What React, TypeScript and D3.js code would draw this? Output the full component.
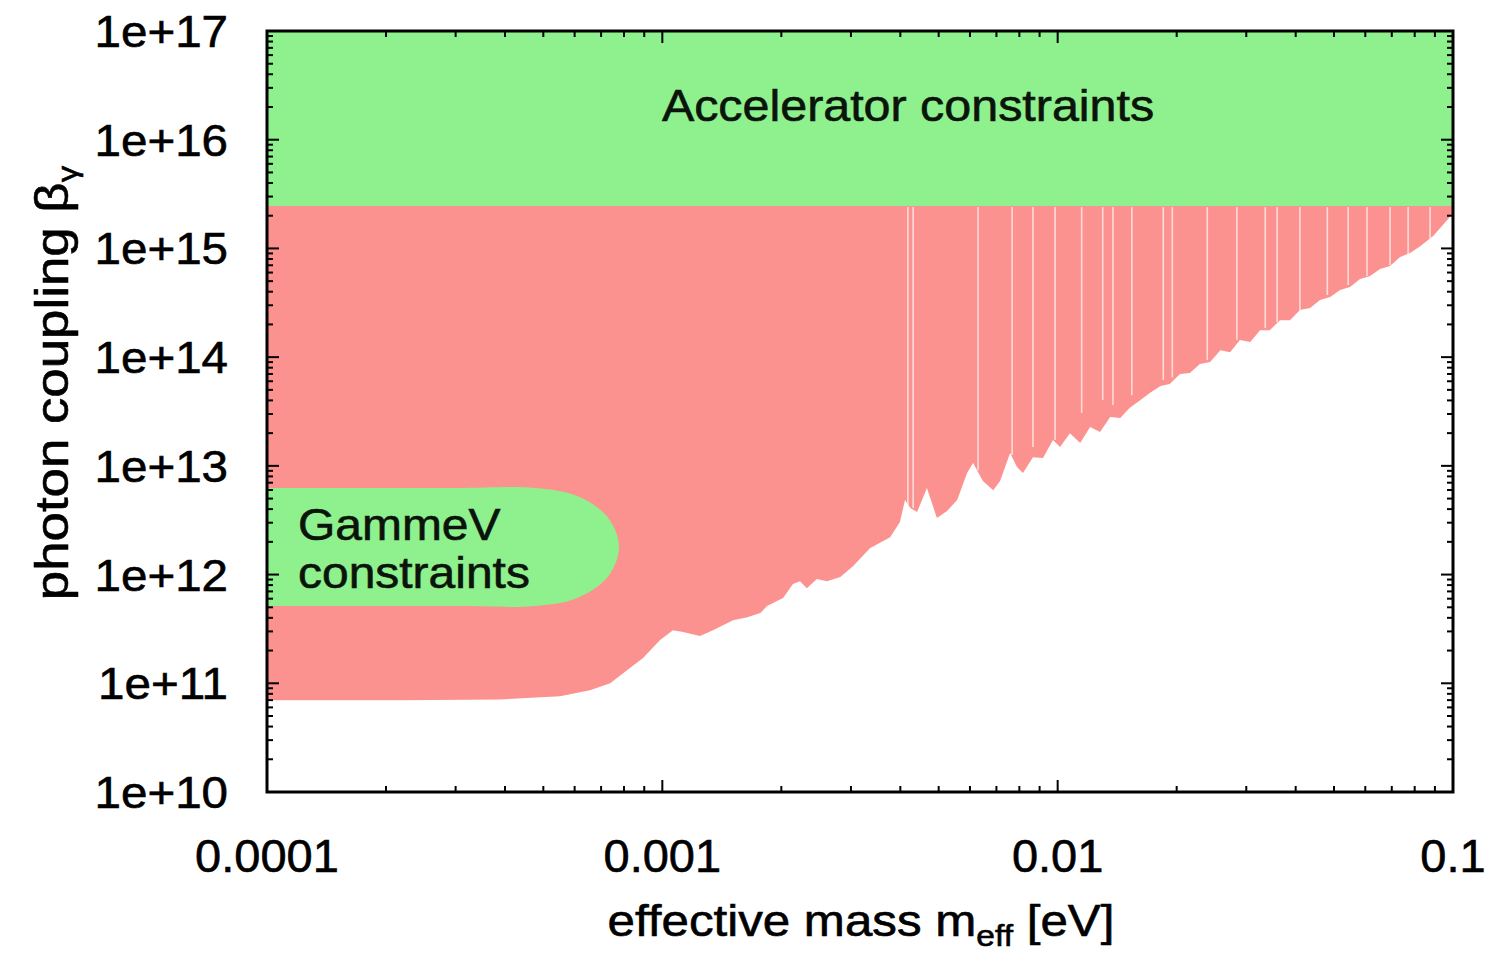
import React from "react";
import * as d3 from "d3";

// Axis ticks
const xTickValues = [1e-4, 1e-3, 1e-2, 1e-1];
const xTickLabels = ["0.0001", "0.001", "0.01", "0.1"];
const yTickValues = [1e10, 1e11, 1e12, 1e13, 1e14, 1e15, 1e16, 1e17];
const yTickLabels = ["1e+10", "1e+11", "1e+12", "1e+13", "1e+14", "1e+15", "1e+16", "1e+17"];

// Accelerator bound on the photon coupling
const acceleratorBound = 2.45e15;

// Lower edge of the excluded (red) region: effective mass [eV] / coupling
const boundaryMass = [
  1.0e-4, 2.17e-4, 3.88e-4, 5.51e-4, 6.56e-4, 7.38e-4, 8.28e-4, 8.94e-4, 9.87e-4, 1.064e-3,
  1.128e-3, 1.245e-3, 1.343e-3, 1.51e-3, 1.64e-3, 1.77e-3, 1.84e-3, 1.95e-3, 2.02e-3, 2.14e-3,
  2.23e-3, 2.32e-3, 2.46e-3, 2.61e-3, 2.82e-3, 3.04e-3, 3.35e-3, 3.77e-3, 3.99e-3, 4.11e-3,
  4.24e-3, 4.41e-3, 4.67e-3, 4.95e-3, 5.25e-3, 5.57e-3, 5.9e-3, 6.11e-3, 6.47e-3, 6.87e-3,
  7.15e-3, 7.58e-3, 7.89e-3, 8.17e-3, 8.66e-3, 9.18e-3, 9.73e-3, 1.014e-2, 1.074e-2, 1.14e-2,
  1.208e-2, 1.28e-2, 1.358e-2, 1.44e-2, 1.52e-2, 1.62e-2, 1.71e-2, 1.82e-2, 1.92e-2, 2.04e-2,
  2.16e-2, 2.29e-2, 2.43e-2, 2.58e-2, 2.73e-2, 2.89e-2, 3.07e-2, 3.25e-2, 3.44e-2, 3.65e-2,
  3.87e-2, 4.1e-2, 4.35e-2, 4.61e-2, 4.89e-2, 5.18e-2, 5.49e-2, 5.82e-2, 6.17e-2, 6.54e-2,
  6.93e-2, 7.35e-2, 7.79e-2, 8.26e-2, 8.91e-2, 9.66e-2, 1.0e-1,
];
const boundaryCoupling = [
  7.0e10, 7.0e10, 7.1e10, 7.6e10, 8.65e10, 1.0e11, 1.38e11, 1.71e11, 2.5e11, 3.08e11,
  2.96e11, 2.72e11, 3.08e11, 3.81e11, 4.06e11, 4.43e11, 5.13e11, 5.7e11, 6.08e11, 8.18e11,
  8.7e11, 7.5e11, 9.1e11, 8.7e11, 9.5e11, 1.2e12, 1.75e12, 2.21e12, 3.04e12, 4.84e12,
  4.09e12, 3.76e12, 6.25e12, 3.31e12, 3.84e12, 4.84e12, 8.6e12, 1.06e13, 7.24e12, 5.98e12,
  7.24e12, 1.31e13, 9.75e12, 8.6e12, 1.2e13, 1.18e13, 1.73e13, 1.49e13, 2.0e13, 1.62e13,
  2.28e13, 2.05e13, 2.81e13, 2.75e13, 3.4e13, 4.03e13, 4.68e13, 5.42e13, 5.66e13, 6.99e13,
  7.14e13, 8.65e13, 9.0e13, 1.16e14, 1.11e14, 1.44e14, 1.38e14, 1.77e14, 1.77e14, 2.19e14,
  2.19e14, 2.71e14, 2.83e14, 3.35e14, 3.57e14, 4.14e14, 4.42e14, 5.23e14, 5.57e14, 6.46e14,
  6.9e14, 8.34e14, 9.07e14, 1.05e15, 1.3e15, 1.82e15, 2.12e15,
];

// Narrow resonance gaps inside the excluded region: mass / lowest coupling reached
const gapMass = [
  4.18e-3, 4.31e-3, 6.29e-3, 7.67e-3, 8.66e-3, 9.85e-3, 1.15e-2, 1.3e-2, 1.38e-2, 1.54e-2,
  1.85e-2, 1.95e-2, 2.39e-2, 2.84e-2, 3.35e-2, 3.59e-2, 4.1e-2, 4.81e-2, 5.43e-2, 6.06e-2,
  6.93e-2, 7.7e-2, 8.75e-2,
];
const gapCoupling = [
  4.36e12, 4.1e12, 9.1e12, 1.26e13, 1.49e13, 1.73e13, 3.06e13, 4.03e13, 3.62e13, 4.48e13,
  6.15e13, 6.5e13, 9.4e13, 1.44e14, 1.85e14, 2.1e14, 2.71e14, 3.73e14, 4.6e14, 5.57e14,
  7.03e14, 8.7e14, 1.2e15,
];

// GammeV excluded region outline
const gammevMass = [1e-4, 3e-4, 4.76e-4, 6.09e-4, 7.29e-4, 7.77e-4, 7.29e-4, 6.09e-4, 4.76e-4, 3e-4, 1e-4];
const gammevCoupling = [6.25e12, 6.25e12, 6.25e12, 5.27e12, 3.34e12, 1.79e12, 9.6e11, 6.08e11, 5.13e11, 5.13e11, 5.13e11];

const WIDTH = 1493;
const HEIGHT = 956;
const M = { left: 267, right: 1453, top: 31, bottom: 792 };

const GREEN = "#8ff08e";
const RED = "#fb9290";
const INK = "#0a140a";
const FONT = "'Liberation Sans', Arial, Helvetica, sans-serif";

export default function App() {
  const x = d3.scaleLog().domain([1e-4, 1e-1]).range([M.left, M.right]);
  const y = d3.scaleLog().domain([1e10, 1e17]).range([M.bottom, M.top]);

  const boundary = boundaryMass.map((m, i) => ({ m, b: boundaryCoupling[i] }));
  const redArea = d3
    .area<{ m: number; b: number }>()
    .x((d) => x(d.m))
    .y0((d) => y(d.b))
    .y1(() => y(acceleratorBound))(boundary);

  const gammev = gammevMass.map((m, i) => [x(m), y(gammevCoupling[i])] as [number, number]);
  const gammevPath = d3.line().curve(d3.curveCatmullRom.alpha(0.5))(gammev) + "Z";

  // minor ticks
  const xMinor: number[] = [];
  for (let e = -4; e < -1; e++) for (let k = 2; k <= 9; k++) xMinor.push(k * Math.pow(10, e));
  const yMinor: number[] = [];
  for (let e = 10; e < 17; e++) for (let k = 2; k <= 9; k++) yMinor.push(k * Math.pow(10, e));

  const MAJ = 12;
  const MIN = 6;
  const textStroke = { stroke: "currentColor", strokeWidth: 0.6 };

  return (
    <svg
      width={WIDTH}
      height={HEIGHT}
      style={{ position: "absolute", left: 0, top: 0, background: "#fff" }}
      fontFamily={FONT}
    >
      <defs>
        <clipPath id="plotClip">
          <rect x={M.left} y={M.top} width={M.right - M.left} height={M.bottom - M.top} />
        </clipPath>
      </defs>

      <g clipPath="url(#plotClip)">
        {/* accelerator band */}
        <rect
          x={M.left}
          y={y(1e17)}
          width={M.right - M.left}
          height={y(acceleratorBound) - y(1e17)}
          fill={GREEN}
        />
        {/* excluded region */}
        <path d={redArea || ""} fill={RED} />
        {/* resonance gaps */}
        {gapMass.map((m, i) => (
          <line
            key={i}
            x1={x(m)}
            x2={x(m)}
            y1={y(acceleratorBound) + 1}
            y2={y(gapCoupling[i])}
            stroke="#fff4f0"
            strokeWidth={1.6}
            strokeOpacity={0.75}
          />
        ))}
        {/* GammeV region */}
        <path d={gammevPath} fill={GREEN} />
      </g>

      {/* labels inside the plot */}
      <g color={INK} fill={INK} fontSize={44} {...textStroke}>
        <text transform="translate(908,121) scale(1.1,1)" textAnchor="middle">
          Accelerator constraints
        </text>
        <text transform="translate(298,540) scale(1.09,1)">GammeV</text>
        <text transform="translate(298,588) scale(1.09,1)">constraints</text>
      </g>

      {/* ticks */}
      <g stroke="#000" strokeWidth={2}>
        {xTickValues.map((v) => (
          <g key={"xM" + v}>
            <line x1={x(v)} x2={x(v)} y1={M.bottom} y2={M.bottom - MAJ} />
            <line x1={x(v)} x2={x(v)} y1={M.top} y2={M.top + MAJ} />
          </g>
        ))}
        {xMinor.map((v) => (
          <g key={"xm" + v}>
            <line x1={x(v)} x2={x(v)} y1={M.bottom} y2={M.bottom - MIN} />
            <line x1={x(v)} x2={x(v)} y1={M.top} y2={M.top + MIN} />
          </g>
        ))}
        {yTickValues.map((v) => (
          <g key={"yM" + v}>
            <line x1={M.left} x2={M.left + MAJ} y1={y(v)} y2={y(v)} />
            <line x1={M.right} x2={M.right - MAJ} y1={y(v)} y2={y(v)} />
          </g>
        ))}
        {yMinor.map((v) => (
          <g key={"ym" + v}>
            <line x1={M.left} x2={M.left + MIN} y1={y(v)} y2={y(v)} />
            <line x1={M.right} x2={M.right - MIN} y1={y(v)} y2={y(v)} />
          </g>
        ))}
      </g>

      {/* frame */}
      <rect
        x={M.left}
        y={M.top}
        width={M.right - M.left}
        height={M.bottom - M.top}
        fill="none"
        stroke="#000"
        strokeWidth={3}
      />

      {/* tick labels */}
      <g color="#000" fill="#000" {...textStroke}>
        {xTickValues.map((v, i) => (
          <text key={"xl" + v} x={x(v)} y={872} textAnchor="middle" fontSize={47}>
            {xTickLabels[i]}
          </text>
        ))}
        {yTickValues.map((v, i) => (
          <text
            key={"yl" + v}
            transform={`translate(228,${y(v) + 16}) scale(1.08,1)`}
            textAnchor="end"
            fontSize={44}
          >
            {yTickLabels[i]}
          </text>
        ))}

        {/* axis titles */}
        <text transform="translate(861,936) scale(1.12,1)" textAnchor="middle" fontSize={44}>
          effective mass m
          <tspan fontSize={30} dy={10}>eff</tspan>
          <tspan dy={-10}> [eV]</tspan>
        </text>
        <text transform="translate(68,383) rotate(-90) scale(1.1,0.95)" textAnchor="middle" fontSize={48}>
          photon coupling β
          <tspan fontSize={30} dy={9}>γ</tspan>
        </text>
      </g>
    </svg>
  );
}
